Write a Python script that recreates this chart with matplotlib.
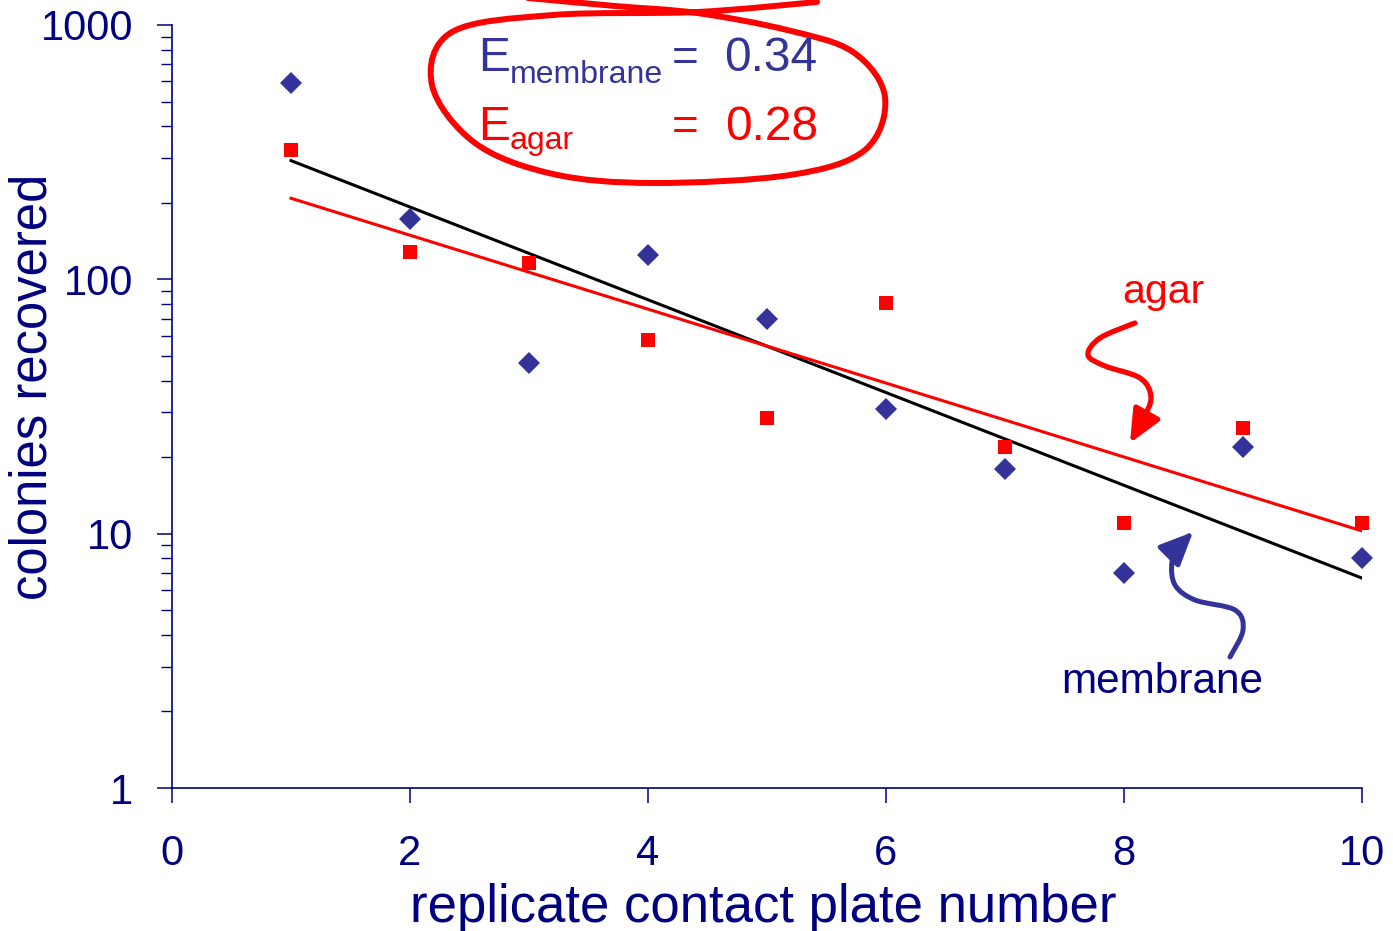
import numpy as np
import matplotlib
matplotlib.use("Agg")
import matplotlib.pyplot as plt
from matplotlib.path import Path
from matplotlib.patches import PathPatch, FancyArrowPatch
from matplotlib.ticker import LogLocator, NullFormatter

plt.rcParams["font.family"] = ["Liberation Sans", "DejaVu Sans"]

# data (colonies per replicate contact plate)
plate = [1, 2, 3, 4, 5, 6, 7, 8, 9, 10]
membrane = [590, 173, 47, 125, 70, 31, 18, 7, 22, 8]
agar = [323, 128, 116, 58, 28.5, 81, 22, 11, 26, 11]

x_ticks = [0, 2, 4, 6, 8, 10]
y_ticks = [1, 10, 100, 1000]
y_tick_labels = ["1", "10", "100", "1000"]

NAVY = "#000080"
BLUE = "#333399"
RED = "#FF0000"

W, H = 1393, 931


def fig_xy(x, y):
    """pixel position (origin top-left) -> figure fraction"""
    return x / W, 1 - y / H


def smooth_path(pts):
    """Catmull-Rom through the points, as a bezier path in figure fraction."""
    p = np.array([fig_xy(x, y) for x, y in pts])
    ext = np.vstack([p[0], p, p[-1]])
    verts = [p[0]]
    codes = [Path.MOVETO]
    for i in range(len(p) - 1):
        p0, p1, p2, p3 = ext[i], ext[i + 1], ext[i + 2], ext[i + 3]
        verts += [p1 + (p2 - p0) / 6, p2 - (p3 - p1) / 6, p2]
        codes += [Path.CURVE4] * 3
    return Path(verts, codes)


def exp_fit(x, y):
    slope, icpt = np.polyfit(x, np.log10(y), 1)
    xs = np.array([x[0], x[-1]], dtype=float)
    return xs, 10 ** (icpt + slope * xs), 1 - 10 ** slope


fig = plt.figure(figsize=(W / 100, H / 100), dpi=100)
ax = fig.add_axes([172 / W, 1 - 788 / H, (1362 - 172) / W, (788 - 25) / H])

xs, m_fit, e_mem = exp_fit(plate, membrane)
xs, a_fit, e_agar = exp_fit(plate, agar)

ax.plot(xs, m_fit, color="black", lw=2.2, zorder=2)
ax.plot(xs, a_fit, color=RED, lw=2.2, zorder=2)
ax.plot(plate, membrane, "D", color=BLUE, ms=11.5, mew=0, clip_on=False, zorder=3)
ax.plot(plate, agar, "s", color=RED, ms=9.5, mew=0, clip_on=False, zorder=3)

ax.set_yscale("log")
ax.set_xlim(0, 10)
ax.set_ylim(1, 1000)
ax.set_xticks(x_ticks)
ax.set_yticks(y_ticks)
ax.set_yticklabels(y_tick_labels)
ax.yaxis.set_minor_locator(LogLocator(base=10, subs=np.arange(2, 10)))
ax.yaxis.set_minor_formatter(NullFormatter())

for side in ["top", "right"]:
    ax.spines[side].set_visible(False)
for side in ["left", "bottom"]:
    ax.spines[side].set_color(NAVY)
    ax.spines[side].set_linewidth(1.2)

ax.tick_params(axis="y", which="major", length=11, width=1.1, pad=17,
               color=NAVY, labelcolor=NAVY, labelsize=30)
ax.tick_params(axis="y", which="minor", length=8, width=1.0, color=NAVY)
ax.tick_params(axis="x", which="major", length=11, width=1.1, pad=22,
               color=NAVY, labelcolor=NAVY, labelsize=30)

fig.text(*fig_xy(33, 387), "colonies recovered", rotation=90, ha="center",
         va="center", fontsize=36.5, color=NAVY)
fig.text(*fig_xy(763, 922), "replicate contact plate number", ha="center",
         va="baseline", fontsize=38, color=NAVY)

# efficiency box
fig.text(*fig_xy(478, 71), "E", fontsize=34.5, color=BLUE, va="baseline")
fig.text(*fig_xy(510, 83), "membrane", fontsize=23, color=BLUE, va="baseline")
fig.text(*fig_xy(672, 71), "=", fontsize=33, color=BLUE, va="baseline")
fig.text(*fig_xy(724, 71), f"{e_mem:.2f}", fontsize=34.5, color=BLUE, va="baseline")

fig.text(*fig_xy(478, 140), "E", fontsize=34.5, color=RED, va="baseline")
fig.text(*fig_xy(510, 149), "agar", fontsize=23, color=RED, va="baseline")
fig.text(*fig_xy(672, 140), "=", fontsize=33, color=RED, va="baseline")
fig.text(*fig_xy(725, 140), f"{e_agar:.2f}", fontsize=34.5, color=RED, va="baseline")

loop = [(528, -2), (615, 6), (697, 13), (787, 30), (853, 52), (885, 97),
        (865, 150), (790, 175), (653, 183), (553, 174), (475, 143),
        (432, 85), (452, 32), (553, 15), (697, 12), (817, 2)]
fig.patches.append(PathPatch(smooth_path(loop), fill=False, edgecolor=RED,
                             lw=4.3, transform=fig.transFigure, capstyle="round"))

# hand drawn arrows
fig.text(*fig_xy(1163, 303), "agar", ha="center", va="baseline", fontsize=29.5, color=RED)
agar_arrow = [(1135, 323), (1100, 338), (1088, 355), (1105, 366), (1140, 378),
              (1151, 397), (1143, 420), (1130, 443)]
fig.patches.append(FancyArrowPatch(path=smooth_path(agar_arrow), transform=fig.transFigure,
                                   arrowstyle="-|>,head_length=2.0,head_width=0.9",
                                   mutation_scale=10, lw=3.8, color=RED,
                                   shrinkA=0, shrinkB=0))

fig.text(*fig_xy(1162, 693), "membrane", ha="center", va="baseline", fontsize=30.5, color=NAVY)
mem_arrow = [(1230, 657), (1243, 630), (1235, 610), (1195, 600), (1175, 585),
             (1172, 562), (1180, 545), (1193, 532)]
fig.patches.append(FancyArrowPatch(path=smooth_path(mem_arrow), transform=fig.transFigure,
                                   arrowstyle="-|>,head_length=2.0,head_width=0.9",
                                   mutation_scale=10, lw=3.6, color=BLUE,
                                   shrinkA=0, shrinkB=0))

fig.savefig("out.png", dpi=100)
